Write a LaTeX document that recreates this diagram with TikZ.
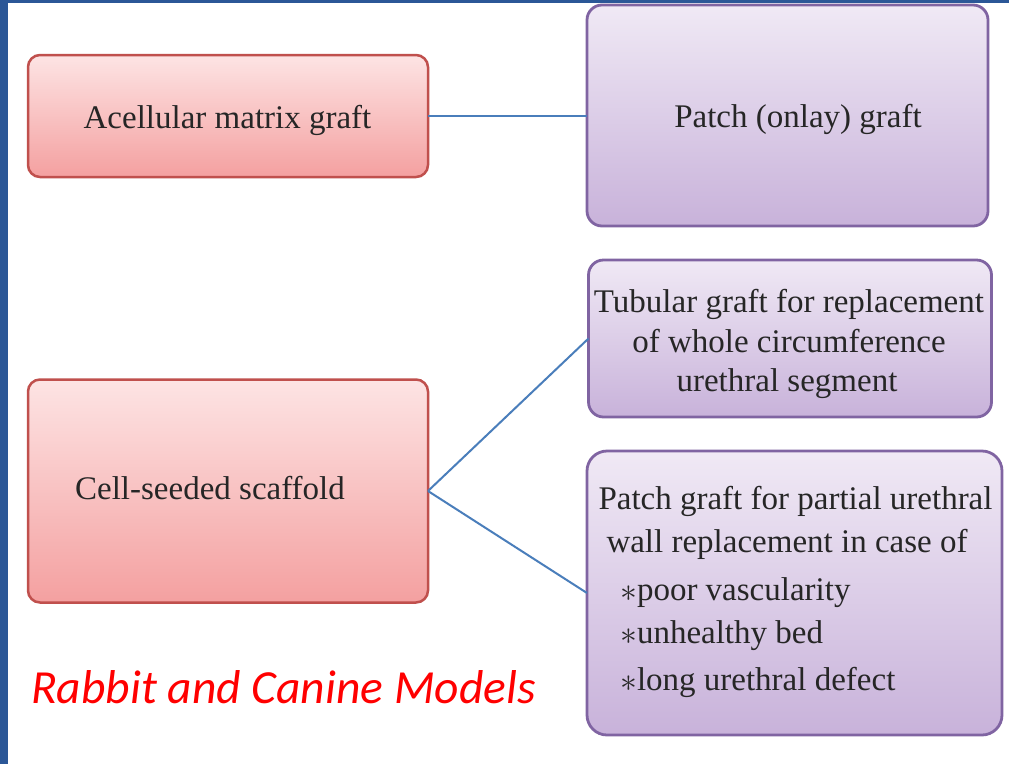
\documentclass[tikz,border=0pt]{standalone}
\usepackage{fontspec}
\setmainfont{Liberation Serif}
\newfontfamily\carl{Carlito}
\definecolor{redtop}{HTML}{FDE4E4}
\definecolor{redbot}{HTML}{F4A0A0}
\definecolor{redline}{HTML}{C0504D}
\definecolor{purtop}{HTML}{F0E9F5}
\definecolor{purbot}{HTML}{C8B2DA}
\definecolor{purline}{HTML}{8064A2}
\definecolor{conn}{HTML}{4A7EBB}
\definecolor{frameblue}{HTML}{2B5797}
\newcommand{\bul}{\raisebox{-1pt}{\scalebox{1.35}{$\ast$}}}
\tikzset{
  redbox/.style={draw=redline, line width=2.5pt, rounded corners=12pt, top color=redtop, bottom color=redbot, inner sep=0pt, outer sep=0pt},
  purbox/.style={draw=purline, line width=2.8pt, rounded corners=15pt, top color=purtop, bottom color=purbot, inner sep=0pt, outer sep=0pt},
  boxtext/.style={font=\fontsize{33}{40}\selectfont, text=black!85, inner sep=0pt, anchor=base},
  link/.style={draw=conn, line width=2pt},
  note/.style={font=\carl\itshape\fontsize{47.5}{54}\selectfont, text=red, inner sep=0pt, anchor=base west}
}
\begin{document}
\begin{tikzpicture}[x=1pt,y=-1pt]
\useasboundingbox (0,0) rectangle (1009,764);
\fill[white] (0,0) rectangle (1009,764);
\fill[frameblue] (0,0) rectangle (8,764);
\fill[frameblue] (0,0) rectangle (1009,3);
% boxes
\node[redbox, minimum width=400pt, minimum height=122pt] (A) at (228,116) {};
\node[purbox, minimum width=401pt, minimum height=221pt] (P) at (787.5,115.5) {};
\node[purbox, minimum width=403pt, minimum height=157pt] (T) at (588.5,338.5) [anchor=west] {};
\node[redbox, minimum width=400pt, minimum height=223pt] (C) at (228,491) {};
\node[purbox, rounded corners=20pt, minimum width=415pt, minimum height=284pt] (W) at (587,593) [anchor=west] {};
% connectors
\draw[link] (A.east) -- (P.west |- A.east);
\draw[link] (C.east) -- (T.west);
\draw[link] (C.east) -- (W.west);
% texts
\node[boxtext] (tA) at (227.5,128) {Acellular matrix graft};
\node[boxtext] (tP) at (798,127) {Patch (onlay) graft};
\node[boxtext] (tC) at (210,499) {Cell-seeded scaffold};
\node[boxtext] (tT1) at (789,312) {Tubular graft for replacement};
\node[boxtext] (tT2) at (789,352) {of whole circumference};
\node[boxtext] (tT3) at (787,391) {urethral segment};
\node[boxtext] (tW1) at (795.5,509) {Patch graft for partial urethral};
\node[boxtext] (tW2) at (787,552) {wall replacement in case of};
\node[boxtext, anchor=base west] (tW3) at (620,600) {\bul poor vascularity};
\node[boxtext, anchor=base west] (tW4) at (620,643) {\bul unhealthy bed};
\node[boxtext, anchor=base west] (tW5) at (620,690) {\bul long urethral defect};
\node[note] (models) at (31,703) {Rabbit and Canine Models};
\end{tikzpicture}
\end{document}
